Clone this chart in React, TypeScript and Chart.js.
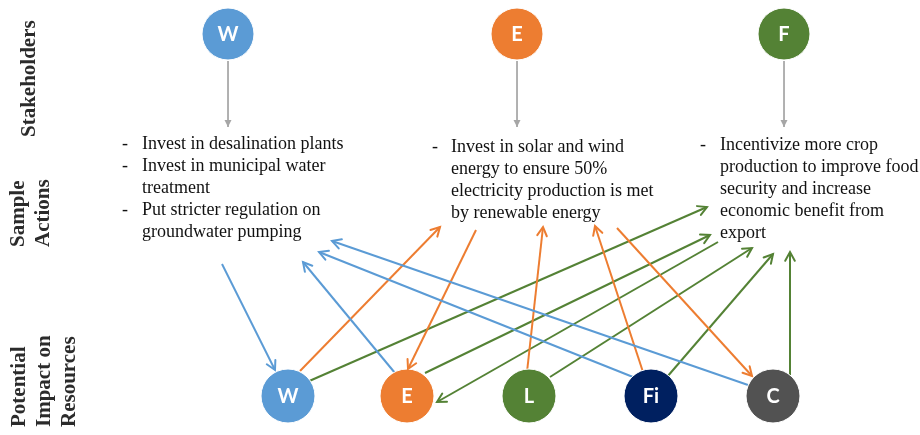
import React, { useEffect, useRef } from "react";
import { Chart, registerables } from "chart.js";

Chart.register(...registerables);

// ---------- data ----------
const stakeholderLabels = ["W", "E", "F"];
const stakeholderX = [228, 517, 784];
const stakeholderY = [34, 34, 34];
const stakeholderColors = ["#5B9BD5", "#ED7D31", "#548235"];

const resourceLabels = ["W", "E", "L", "Fi", "C"];
const resourceX = [288, 407, 529, 651, 773];
const resourceY = [396, 396, 396, 396, 396];
const resourceColors = ["#5B9BD5", "#ED7D31", "#548235", "#002060", "#525252"];

// arrows: [fromX, fromY, toX, toY] (head at "to")
const grayArrows = [
  [228, 61, 228, 127],
  [517, 61, 517, 127],
  [784, 61, 784, 127],
];
const blueArrows = [
  [222, 264, 275, 370],
  [395, 373, 303, 262],
  [633, 377, 319, 252],
  [748, 385, 332, 241],
];
const orangeArrows = [
  [300, 371, 440, 227],
  [476, 230, 408, 369],
  [527, 372, 543, 227],
  [643, 372, 595, 226],
  [617, 228, 752, 376],
];
const greenArrows = [
  [307, 382, 707, 207],
  [425, 373, 710, 235],
  [718, 242, 437, 402],
  [550, 377, 752, 248],
  [667, 377, 773, 254],
  [790, 375, 790, 252],
];

const waterActions = [
  { dash: true, text: "Invest in desalination plants" },
  { dash: true, text: "Invest in municipal water" },
  { dash: false, text: "treatment" },
  { dash: true, text: "Put stricter regulation on" },
  { dash: false, text: "groundwater pumping" },
];
const energyActions = [
  { dash: true, text: "Invest in solar and wind" },
  { dash: false, text: "energy to ensure 50%" },
  { dash: false, text: "electricity production is met" },
  { dash: false, text: "by renewable energy" },
];
const foodActions = [
  { dash: true, text: "Incentivize more crop" },
  { dash: false, text: "production to improve food" },
  { dash: false, text: "security and increase" },
  { dash: false, text: "economic benefit from" },
  { dash: false, text: "export" },
];
const actionBlocks = [
  { lines: waterActions, dashX: 122, textX: 142, y0: 144 },
  { lines: energyActions, dashX: 432, textX: 451, y0: 147 },
  { lines: foodActions, dashX: 700, textX: 720, y0: 145 },
];
const actionLineGap = 22;

// rotated row labels; yStart = where the text begins (bottom end)
const rowLabels = [
  { lines: ["Stakeholders"], x: [30], yStart: 137 },
  { lines: ["Sample", "Actions"], x: [19, 44], yStart: 247 },
  { lines: ["Potential", "Impact on", "Resources"], x: [20, 45, 70], yStart: 427 },
];

// ---------- helpers ----------
function arrowDatasets(list: number[][], color: string, width: number, head: string) {
  return list.map((a) => ({
    type: "scatter" as const,
    data: [
      { x: a[0], y: a[1] },
      { x: a[2], y: a[3] },
    ],
    showLine: true,
    borderColor: color,
    backgroundColor: color,
    borderWidth: width,
    pointRadius: 0,
    pointHoverRadius: 0,
    clip: false as any,
    order: 2,
    arrowHead: head,
  }));
}

const arrowPlugin = {
  id: "arrowHeads",
  afterDatasetsDraw(chart: any) {
    const ctx = chart.ctx;
    chart.data.datasets.forEach((ds: any, i: number) => {
      if (!ds.arrowHead) return;
      const meta = chart.getDatasetMeta(i);
      const p0 = meta.data[0];
      const p1 = meta.data[1];
      if (!p0 || !p1) return;
      const ang = Math.atan2(p1.y - p0.y, p1.x - p0.x);
      ctx.save();
      ctx.strokeStyle = ds.borderColor;
      ctx.fillStyle = ds.borderColor;
      if (ds.arrowHead === "filled") {
        const L = 7, W = 3.5;
        ctx.beginPath();
        ctx.moveTo(p1.x, p1.y);
        ctx.lineTo(p1.x - L * Math.cos(ang) + W * Math.sin(ang), p1.y - L * Math.sin(ang) - W * Math.cos(ang));
        ctx.lineTo(p1.x - L * Math.cos(ang) - W * Math.sin(ang), p1.y - L * Math.sin(ang) + W * Math.cos(ang));
        ctx.closePath();
        ctx.fill();
      } else {
        const L = 10, spread = 0.5;
        ctx.lineWidth = 2;
        ctx.lineCap = "round";
        ctx.lineJoin = "miter";
        ctx.beginPath();
        ctx.moveTo(p1.x - L * Math.cos(ang - spread), p1.y - L * Math.sin(ang - spread));
        ctx.lineTo(p1.x, p1.y);
        ctx.lineTo(p1.x - L * Math.cos(ang + spread), p1.y - L * Math.sin(ang + spread));
        ctx.stroke();
      }
      ctx.restore();
    });
  },
};

const textPlugin = {
  id: "diagramText",
  afterDraw(chart: any) {
    const ctx = chart.ctx;
    const xs = chart.scales.x;
    const ys = chart.scales.y;
    ctx.save();
    ctx.fillStyle = "#ffffff";
    ctx.font = "bold 20px Lato, 'Open Sans', sans-serif";
    ctx.textAlign = "center";
    ctx.textBaseline = "middle";
    stakeholderLabels.forEach((l, i) => {
      ctx.fillText(l, xs.getPixelForValue(stakeholderX[i]), ys.getPixelForValue(stakeholderY[i]) + 1);
    });
    resourceLabels.forEach((l, i) => {
      ctx.fillText(l, xs.getPixelForValue(resourceX[i]), ys.getPixelForValue(resourceY[i]) + 1);
    });
    ctx.fillStyle = "#111111";
    ctx.font = "18px 'Liberation Serif', 'Times New Roman', serif";
    ctx.textAlign = "left";
    actionBlocks.forEach((b) => {
      b.lines.forEach((ln, k) => {
        const y = ys.getPixelForValue(b.y0 + k * actionLineGap);
        if (ln.dash) ctx.fillText("-", xs.getPixelForValue(b.dashX), y);
        ctx.fillText(ln.text, xs.getPixelForValue(b.textX), y);
      });
    });
    ctx.fillStyle = "#2b2b2b";
    ctx.font = "bold 21px 'Liberation Serif', 'Times New Roman', serif";
    ctx.textAlign = "left";
    rowLabels.forEach((r) => {
      r.lines.forEach((ln, k) => {
        ctx.save();
        ctx.translate(xs.getPixelForValue(r.x[k]), ys.getPixelForValue(r.yStart));
        ctx.rotate(-Math.PI / 2);
        ctx.fillText(ln, 0, 0);
        ctx.restore();
      });
    });
    ctx.restore();
  },
};

export default function App() {
  const canvasRef = useRef<HTMLCanvasElement | null>(null);

  useEffect(() => {
    document.body.style.margin = "0";
    const canvas = canvasRef.current;
    if (!canvas) return;

    const datasets: any[] = [
      ...arrowDatasets(grayArrows, "#A6A6A6", 1, "filled"),
      ...arrowDatasets(blueArrows, "#5B9BD5", 2, "open"),
      ...arrowDatasets(orangeArrows, "#ED7D31", 2, "open"),
      ...arrowDatasets(greenArrows, "#548235", 2, "open"),
      {
        type: "scatter",
        data: stakeholderX.map((x, i) => ({ x, y: stakeholderY[i] })),
        pointRadius: 26,
        pointHoverRadius: 26,
        pointBackgroundColor: stakeholderColors,
        pointBorderColor: "#ffffff",
        pointBorderWidth: 1,
        showLine: false,
        clip: false,
        order: 0,
      },
      {
        type: "scatter",
        data: resourceX.map((x, i) => ({ x, y: resourceY[i] })),
        pointRadius: 27,
        pointHoverRadius: 27,
        pointBackgroundColor: resourceColors,
        pointBorderColor: "#ffffff",
        pointBorderWidth: 1,
        showLine: false,
        clip: false,
        order: 0,
      },
    ];

    const chart = new Chart(canvas, {
      type: "scatter",
      data: { datasets },
      options: {
        animation: false,
        responsive: false,
        maintainAspectRatio: false,
        devicePixelRatio: 1,
        events: [],
        layout: { padding: 0, autoPadding: false },
        plugins: { legend: { display: false }, tooltip: { enabled: false } },
        scales: {
          x: { type: "linear", min: 0, max: 920, display: false },
          y: { type: "linear", min: 0, max: 435, reverse: true, display: false },
        },
      },
      plugins: [arrowPlugin, textPlugin],
    } as any);

    return () => chart.destroy();
  }, []);

  return (
    <div style={{ position: "absolute", left: 0, top: 0, width: 920, height: 435, background: "#ffffff" }}>
      <canvas ref={canvasRef} width={920} height={435} />
    </div>
  );
}
